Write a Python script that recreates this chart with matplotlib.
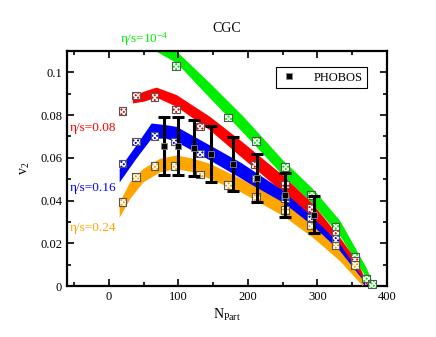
import matplotlib
matplotlib.use("Agg")
import matplotlib.pyplot as plt
from matplotlib.ticker import MultipleLocator

plt.rcParams['font.family'] = ['Liberation Serif', 'DejaVu Serif']
plt.rcParams['mathtext.fontset'] = 'custom'
plt.rcParams['mathtext.rm'] = 'Liberation Serif'
plt.rcParams['mathtext.it'] = 'Liberation Serif'
plt.rcParams['hatch.linewidth'] = 1.0

# PHOBOS data
phobos_n = [80, 100, 122, 147, 178, 213, 253, 295]
phobos_v2 = [0.0655, 0.0655, 0.0645, 0.0617, 0.0571, 0.0506, 0.0425, 0.0333]
phobos_err = [0.0136, 0.0136, 0.0131, 0.013, 0.0125, 0.0114, 0.0104, 0.0087]

# hydro bands (upper / lower edge)
green_n = [70, 97, 145, 193, 250, 293, 332, 370, 380]
green_hi = [0.113, 0.110, 0.0951, 0.0795, 0.059, 0.0456, 0.0307, 0.0086, 0.001]
green_lo = [0.1095, 0.1046, 0.0881, 0.0718, 0.0519, 0.0385, 0.0236, 0.0039, 0.0]

red_n = [34, 50, 68, 97, 145, 190, 250, 293, 332, 356, 372]
red_hi = [0.0888, 0.0912, 0.0931, 0.0896, 0.0794, 0.068, 0.0519, 0.0385, 0.0228, 0.0118, 0.001]
red_lo = [0.0857, 0.0865, 0.0884, 0.0841, 0.0731, 0.0605, 0.044, 0.0307, 0.0165, 0.0071, 0.0]

blue_n = [15, 39, 61, 82, 97, 145, 190, 250, 293, 332, 368]
blue_hi = [0.055, 0.066, 0.0763, 0.0755, 0.0747, 0.066, 0.0578, 0.0448, 0.0322, 0.0197, 0.002]
blue_lo = [0.0487, 0.0598, 0.0692, 0.0692, 0.0676, 0.059, 0.0505, 0.0377, 0.0251, 0.0142, 0.0]

orange_n = [15, 30, 49, 73, 97, 121, 145, 190, 250, 293, 332, 365]
orange_hi = [0.0393, 0.0487, 0.055, 0.0598, 0.0613, 0.0598, 0.0574, 0.0503, 0.0393, 0.0283, 0.0165, 0.003]
orange_lo = [0.0322, 0.0409, 0.0487, 0.0534, 0.055, 0.0534, 0.0503, 0.044, 0.033, 0.0228, 0.0118, 0.0]

# model points (checkered squares)
green_pts_n = [97, 171, 212, 253, 291, 326, 354, 370, 378]
green_pts_v = [0.103, 0.0789, 0.068, 0.0558, 0.0425, 0.0278, 0.0137, 0.0036, 0.0008]
red_pts_n = [20, 39, 66, 97, 131, 210, 253, 290, 326, 354]
red_pts_v = [0.0818, 0.0891, 0.0885, 0.0826, 0.0747, 0.0569, 0.0475, 0.0366, 0.0244, 0.0118]
blue_pts_n = [20, 39, 66, 95, 131, 212, 253, 290, 326]
blue_pts_v = [0.0574, 0.0676, 0.0703, 0.0676, 0.0621, 0.0503, 0.0409, 0.032, 0.022]
orange_pts_n = [20, 39, 66, 95, 131, 171, 212, 253, 290, 326, 354]
orange_pts_v = [0.0393, 0.0511, 0.0563, 0.0563, 0.0522, 0.0472, 0.0417, 0.0357, 0.0283, 0.0189, 0.0099]

GREEN = '#00ee00'
RED = '#ff0000'
BLUE = '#0000ff'
ORANGE = '#ffa500'

fig = plt.figure(figsize=(4.36, 3.37), dpi=100)
ax = fig.add_axes([0.1537, 0.1513, 0.734, 0.6974])

ax.fill_between(green_n, green_lo, green_hi, color=GREEN, lw=0, zorder=1)
ax.fill_between(red_n, red_lo, red_hi, color=RED, lw=0, zorder=2)
ax.fill_between(blue_n, blue_lo, blue_hi, color=BLUE, lw=0, zorder=3)
ax.fill_between(orange_n, orange_lo, orange_hi, color=ORANGE, lw=0, zorder=4)

for n, v, c in [(green_pts_n, green_pts_v, GREEN), (red_pts_n, red_pts_v, RED),
                (blue_pts_n, blue_pts_v, BLUE), (orange_pts_n, orange_pts_v, ORANGE)]:
    # coloured square with white checker hatch, then grey outline
    ax.scatter(n, v, s=30, marker='s', facecolor=c, edgecolor='white',
               linewidths=0, hatch='x' * 7, zorder=5, clip_on=False)
    ax.scatter(n, v, s=30, marker='s', facecolor='none', edgecolor='#555555',
               linewidths=0.8, zorder=5, clip_on=False)

ax.errorbar(phobos_n, phobos_v2, yerr=phobos_err, fmt='none', ecolor='black',
            elinewidth=2.2, capsize=4, capthick=2.2, zorder=6)
ax.plot(phobos_n, phobos_v2, ls='none', marker='s', ms=5, mfc='black',
        mec='#888888', mew=0.6, zorder=7, label='PHOBOS')

ax.set_xlim(-60, 400)
ax.set_ylim(0, 0.11)
ax.xaxis.set_major_locator(MultipleLocator(100))
ax.xaxis.set_minor_locator(MultipleLocator(50))
ax.yaxis.set_minor_locator(MultipleLocator(0.01))
ax.set_yticks([0, 0.02, 0.04, 0.06, 0.08, 0.1])
ax.set_yticklabels(['0', '0.02', '0.04', '0.06', '0.08', '0.1'])
ax.tick_params(which='both', direction='in', top=True, right=True,
               labelsize=9, width=1.2)
ax.tick_params(which='major', length=5)
ax.tick_params(which='minor', length=3)
for sp in ax.spines.values():
    sp.set_linewidth(1.6)

ax.set_xlabel(r'N$_{\mathrm{Part}}$', fontsize=10, labelpad=3)
ax.set_ylabel(r'v$_2$', fontsize=10, labelpad=6)
ax.set_title('CGC', fontsize=10, pad=14)

ax.text(0.165, 1.035, 'η/s=10$^{-4}$', color=GREEN, fontsize=9.5,
        transform=ax.transAxes)
ax.text(0.01, 0.66, 'η/s=0.08', color=RED, fontsize=9.5, transform=ax.transAxes)
ax.text(0.01, 0.405, 'η/s=0.16', color=BLUE, fontsize=9.5, transform=ax.transAxes)
ax.text(0.01, 0.235, 'η/s=0.24', color=ORANGE, fontsize=9.5, transform=ax.transAxes)

leg = ax.legend(loc='upper right', bbox_to_anchor=(0.9375, 0.93), borderaxespad=0,
                fontsize=9, fancybox=False, framealpha=1, handlelength=1.5,
                handletextpad=1.2, borderpad=0.35)
leg.get_frame().set_edgecolor('black')
leg.get_frame().set_linewidth(0.8)

fig.savefig('out.png', dpi=100)
